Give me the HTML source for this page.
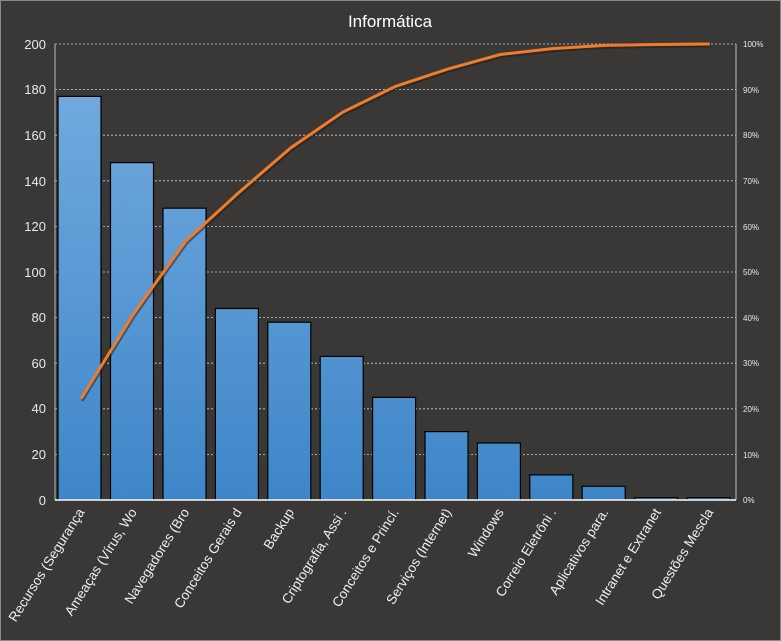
<!DOCTYPE html><html><head><style>html,body{margin:0;padding:0;background:#3a3837;overflow:hidden}svg{display:block}</style></head><body>
<svg width="781" height="641" xmlns="http://www.w3.org/2000/svg" font-family="Liberation Sans, sans-serif">
<defs><linearGradient id="g" gradientUnits="userSpaceOnUse" x1="0" y1="80" x2="0" y2="500"><stop offset="0" stop-color="#73aadf"/><stop offset="1" stop-color="#3e86c9"/></linearGradient></defs>
<rect x="0.5" y="0.5" width="780" height="640" fill="#3a3837" stroke="#8a8a8a"/>
<text x="390" y="27" fill="#fff" font-size="17" text-anchor="middle">Informática</text>
<g stroke="#d0d0d0" stroke-dasharray="2,2" stroke-width="0.8">
<line x1="55" x2="736" y1="44" y2="44"/><line x1="55" x2="736" y1="89.6" y2="89.6"/><line x1="55" x2="736" y1="135.2" y2="135.2"/><line x1="55" x2="736" y1="180.8" y2="180.8"/><line x1="55" x2="736" y1="226.4" y2="226.4"/><line x1="55" x2="736" y1="272" y2="272"/><line x1="55" x2="736" y1="317.6" y2="317.6"/><line x1="55" x2="736" y1="363.2" y2="363.2"/><line x1="55" x2="736" y1="408.8" y2="408.8"/><line x1="55" x2="736" y1="454.4" y2="454.4"/>
</g>
<line x1="55" x2="55" y1="44" y2="500" stroke="#bbb"/><line x1="736" x2="736" y1="44" y2="500" stroke="#bbb"/>
<g fill="#e8e8e8" font-size="13" text-anchor="end">
<text x="46" y="49">200</text><text x="46" y="94">180</text><text x="46" y="140">160</text><text x="46" y="186">140</text><text x="46" y="231">120</text><text x="46" y="277">100</text><text x="46" y="322">80</text><text x="46" y="368">60</text><text x="46" y="413">40</text><text x="46" y="459">20</text><text x="46" y="505">0</text>
</g>
<g fill="#e8e8e8" font-size="8">
<text x="743" y="47">100%</text><text x="743" y="93">90%</text><text x="743" y="138">80%</text><text x="743" y="184">70%</text><text x="743" y="230">60%</text><text x="743" y="275">50%</text><text x="743" y="321">40%</text><text x="743" y="366">30%</text><text x="743" y="412">20%</text><text x="743" y="458">10%</text><text x="743" y="503">0%</text>
</g>
<g fill="url(#g)" stroke="#000" stroke-width="1.2">
<rect x="58" y="96.4" width="43" height="403.6"/>
<rect x="110.5" y="162.6" width="43" height="337.4"/>
<rect x="163" y="208.2" width="43" height="291.8"/>
<rect x="215.4" y="308.5" width="43" height="191.5"/>
<rect x="267.8" y="322.2" width="43" height="177.8"/>
<rect x="320.2" y="356.4" width="43" height="143.6"/>
<rect x="372.6" y="397.4" width="43" height="102.6"/>
<rect x="425" y="431.6" width="43" height="68.4"/>
<rect x="477.4" y="443" width="43" height="57"/>
<rect x="529.8" y="474.9" width="43" height="25.1"/>
<rect x="582.2" y="486.3" width="43" height="13.7"/>
<rect x="634.6" y="497.7" width="43" height="2.3"/>
<rect x="687" y="497.7" width="43" height="2.3"/>
</g>
<line x1="55" x2="736" y1="500" y2="500" stroke="#fff" stroke-width="1.5"/>
<polyline fill="none" stroke="#1a1a1a" stroke-opacity="0.5" stroke-width="3" transform="translate(1,2)" points="81,398.8 133.4,314 185.8,241 238.2,193.1 290.6,148 343,112 395.4,86.4 447.8,69.1 500.2,54.5 552.6,48.6 605,45.4 657.4,44.5 709.8,44"/>
<polyline fill="none" stroke="#f07c28" stroke-width="3" points="81,398.8 133.4,314 185.8,241 238.2,193.1 290.6,148 343,112 395.4,86.4 447.8,69.1 500.2,54.5 552.6,48.6 605,45.4 657.4,44.5 709.8,44"/>
<g fill="#f0f0f0" font-size="13.5" text-anchor="end">
<text transform="translate(85,512) rotate(-58)">Recursos (Segurança</text>
<text transform="translate(137.4,512) rotate(-58)">Ameaças (Vírus, Wo</text>
<text transform="translate(189.8,512) rotate(-58)">Navegadores (Bro</text>
<text transform="translate(242.2,512) rotate(-58)">Conceitos Gerais d</text>
<text transform="translate(294.6,512) rotate(-58)">Backup</text>
<text transform="translate(347,512) rotate(-58)">Criptografia, Assi .</text>
<text transform="translate(399.4,512) rotate(-58)">Conceitos e Princí.</text>
<text transform="translate(451.8,512) rotate(-58)">Serviços (Internet)</text>
<text transform="translate(504.2,512) rotate(-58)">Windows</text>
<text transform="translate(556.6,512) rotate(-58)">Correio Eletrôni .</text>
<text transform="translate(609,512) rotate(-58)">Aplicativos para.</text>
<text transform="translate(661.4,512) rotate(-58)">Intranet e Extranet</text>
<text transform="translate(713.8,512) rotate(-58)">Questões Mescla</text>
</g>
</svg>
</body></html>
